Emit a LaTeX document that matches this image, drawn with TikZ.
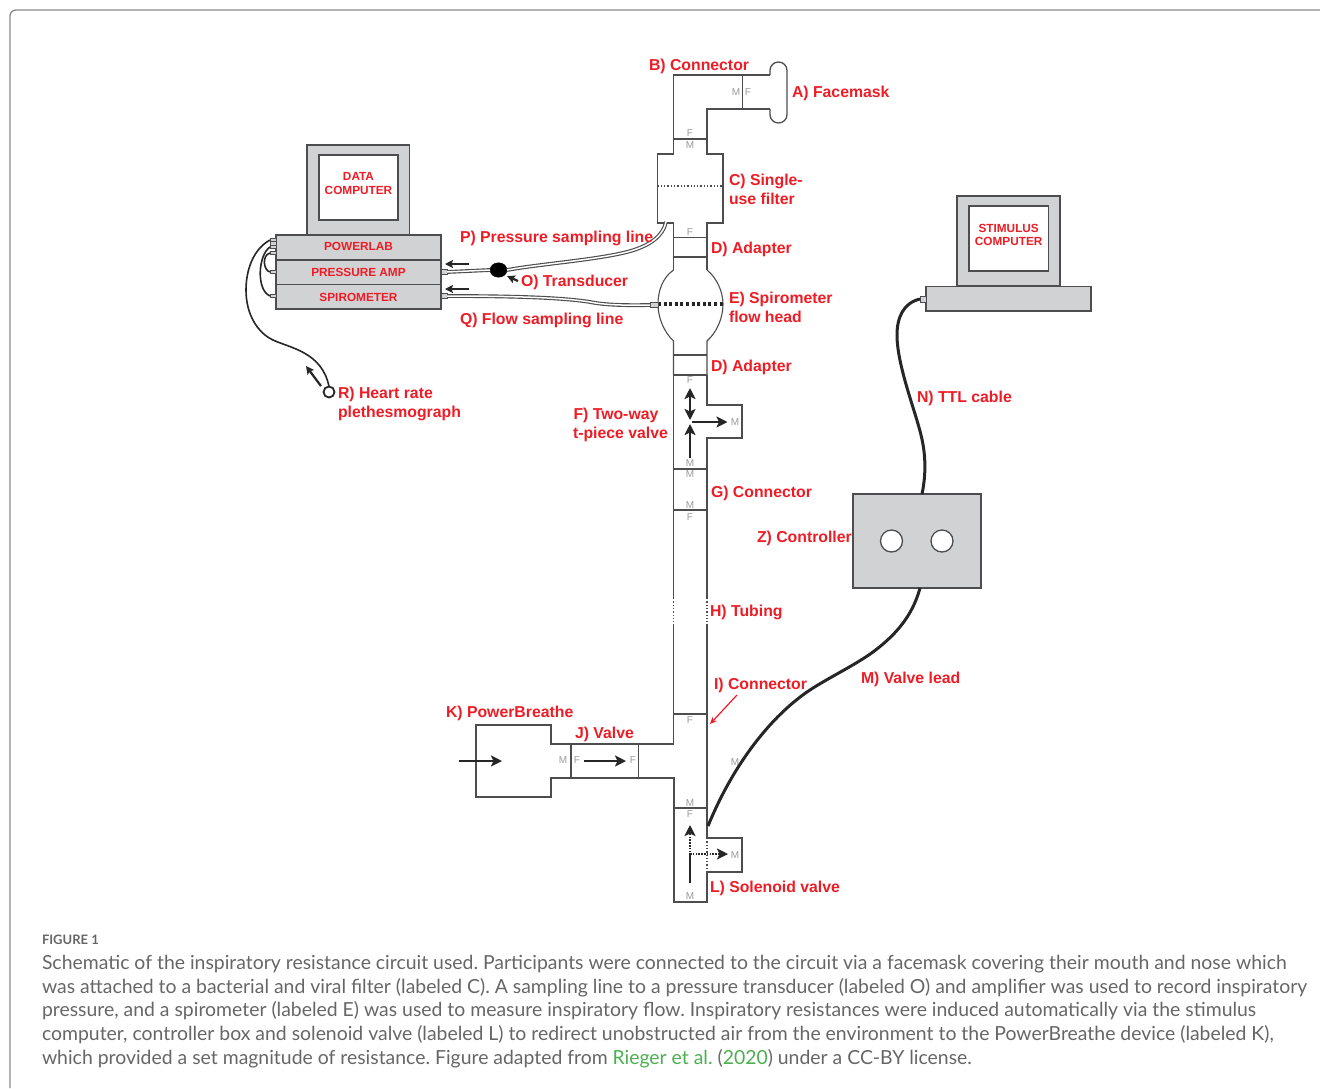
\documentclass[tikz,border=0pt]{standalone}
\usepackage{fontspec}
\setmainfont{Liberation Sans}
\newfontfamily\capfont{Lato}
\usetikzlibrary{arrows.meta,shapes.geometric}
\definecolor{lab}{HTML}{EE1C25}
\definecolor{ln}{HTML}{4D4D4F}
\definecolor{pan}{HTML}{D1D2D4}
\definecolor{gtx}{HTML}{9A9A9A}
\definecolor{capc}{HTML}{666666}
\definecolor{lnk}{HTML}{4CAF50}
\definecolor{frm}{HTML}{8A8A8A}
\tikzset{
 every node/.style={inner sep=0pt,outer sep=0pt},
 wall/.style={draw=ln,line width=1.3pt,line join=miter},
 part/.style={draw=ln,line width=1.3pt,fill=pan},
 screenbox/.style={draw=ln,line width=1.3pt,fill=white},
 lbl/.style={anchor=base west,text=lab,font=\fontsize{15.8}{16}\selectfont\bfseries,align=left},
 mlbl/.style={anchor=center,text=lab,font=\fontsize{11.8}{13.5}\selectfont\bfseries,align=center},
 mf/.style={anchor=center,text=gtx,font=\fontsize{10}{10}\selectfont},
 flow/.style={line width=2.6pt,color=black!85,-{Stealth[length=11pt,width=11pt,inset=2.5pt]}},
 flowd/.style={line width=2.6pt,color=black!85,dash pattern=on 1.6pt off 1.2pt,-{Stealth[length=11pt,width=11pt,inset=2.5pt]}},
 small/.style={line width=2.2pt,color=black!85,-{Stealth[length=8pt,width=8pt,inset=1.5pt]}},
 cable/.style={draw=black!85,line width=3pt},
 thin cable/.style={draw=black!85,line width=1.6pt},
 tube/.style={draw=ln,line width=3.8pt,postaction={draw=white,line width=1.5pt}},
 stub/.style={draw=ln,line width=.8pt,fill=pan,minimum width=6pt,minimum height=4.5pt},
 capt/.style={anchor=base west,text=capc,font=\capfont\fontsize{19.4}{20}\selectfont},
}
\begin{document}
\frenchspacing
\begin{tikzpicture}[x=1pt,y=-1pt]
\useasboundingbox (0,0) rectangle (1320,1088);
\draw[draw=frm,line width=1.3pt,rounded corners=6pt] (10,1088) -- (10,10) -- (1320,10);
% main tube
\draw[wall] (770,75) -- (673.5,75) -- (673.5,154) -- (657.5,154) -- (657.5,223) -- (673.5,223) -- (673.5,270);
\draw[wall] (770,109) -- (707,109) -- (707,154) -- (723,154) -- (723,223) -- (707,223) -- (707,270);
\draw[wall] (742.7,75) -- (742.7,109);
\draw[wall] (673.5,139) -- (707,139);
\draw[line width=1.3pt,draw=ln,dotted] (657.5,186) -- (723,186);
\draw[wall] (673.5,237.5) -- (707,237.5) (673.5,257) -- (707,257);
% mask
\draw[wall,rounded corners=8.4pt] (770,75) -- (770,62) -- (787,62) -- (787,123) -- (770,123) -- (770,109);
% flow head
\draw[wall,line width=1.1pt] (673.5,270) .. controls (662,278) and (658,292) .. (658,304) .. controls (658,318) and (664,332) .. (673.5,341) -- (673.5,375);
\draw[wall,line width=1.1pt] (707,270) .. controls (717,278) and (723,292) .. (723,304) .. controls (723,318) and (717,332) .. (707,341) -- (707,375);
\draw[line width=3.2pt,black!85,dash pattern=on 3pt off 2.6pt] (658,304) -- (723,304);
\draw[wall] (673.5,355) -- (707,355) (673.5,375) -- (707,375);
% t-piece and tube
\draw[wall] (673.5,375) -- (673.5,598) (673.5,625) -- (673.5,744) -- (638.5,744) -- (551,744) -- (551,725) -- (476,725) -- (476,797) -- (551,797) -- (551,778) -- (674,778) -- (674,902) -- (707,902) -- (707,872) -- (742,872) -- (742,838) -- (707,838) -- (707,625);
\draw[wall] (707,598) -- (707,438) -- (742,438) -- (742,405) -- (707,405) -- (707,375);
\draw[line width=1.3pt,draw=ln,dotted] (673.5,598) -- (673.5,625) (707,598) -- (707,625);
\fill[white] (705.5,838.6) rectangle (708.5,871.4);
\draw[line width=1.3pt,draw=ln,dotted] (707,838) -- (707,872);
\draw[wall] (673.5,469) -- (707,469) (673.5,510) -- (707,510) (673.5,714) -- (707,714) (673.5,808) -- (707,808);
\draw[wall] (571,744) -- (571,778) (638.5,744) -- (638.5,778);
% MF letters
\foreach \x/\y/\t in {736/92/M,748/92/F,690/133.5/F,690/145/M,690/232/F,690/380/F,735/422/M,690/463/M,690/474/M,690/505/M,690/517/F,690/720/F,563/760/M,577/760/F,633/760/F,735/762/M,690/803/M,690/814/F,735/855/M,690/896/M}
  \node[mf] at (\x,\y) {\t};
% flow arrows
\draw[line width=2.6pt,black!85,{Stealth[length=11pt,width=11pt,inset=2.5pt]}-{Stealth[length=11pt,width=11pt,inset=2.5pt]}] (690,388) -- (690,420);
\draw[flow] (692,422) -- (727.5,422);
\draw[flow] (690,458) -- (690,424);
\draw[flow] (459,761) -- (502,761);
\draw[flow] (584,761) -- (626,761);
\draw[line width=2.6pt,black!85] (690,883) -- (690,855);
\draw[flowd] (690,855) -- (690,825);
\draw[flowd] (690,854) -- (728,854);
% data computer
\node[part,minimum width=102.5pt,minimum height=90pt] (dataframe) at (358.2,190) {};
\node[screenbox,minimum width=79pt,minimum height=65pt] (datascreen) at (358.5,187.5) {};
\node[mlbl] (datatext) at (358.5,183.5) {DATA\\COMPUTER};
\node[part,minimum width=165pt,minimum height=25pt] (powerlab) at (358.5,247.5) {};
\node[part,minimum width=165pt,minimum height=24.5pt] (amp) at (358.5,272.2) {};
\node[part,minimum width=165pt,minimum height=24.5pt] (spiro) at (358.5,296.8) {};
\node[mlbl] (powerlabtext) at (358.5,246) {POWERLAB};
\node[mlbl] (amptext) at (358.5,272) {PRESSURE AMP};
\node[mlbl] (spirotext) at (358.5,297.5) {SPIROMETER};
\foreach \n/\y in {sa/240,sb/243.5,sc/247,sd/253,se/272,sf/296}
  \node[stub,minimum height=3.5pt] (\n) at (273,\y) {};
\node[stub] (oa) at (444,272) {};
\node[stub] (ob) at (444,296) {};
\node[stub,minimum width=8pt] (oc) at (654,305) {};
% left wires
\draw[thin cable] (sd.west) .. controls (262,255) and (263,270) .. (se.west);
\draw[thin cable] (sc.west) .. controls (258,255) and (256,290) .. (sf.west);
\node[draw=black!85,line width=1.8pt,circle,minimum size=11pt,fill=white] (pleth) at (329,392) {};
\draw[thin cable] (sa.west) .. controls (252,250) and (246,272) .. (246,290) .. controls (246,315) and (258,333) .. (273,340) .. controls (290,348) and (322,352) .. (pleth.north);
\draw[small] (321,386) -- (306,366);
% sampling lines
\node[draw=black,fill=black,ellipse,minimum width=17pt,minimum height=14.5pt] (trans) at (498.5,270) {};
\draw[tube] (oa.east) -- (trans.west);
\coordinate (filt) at (666,222);
\draw[tube] (trans.east) .. controls (540,264) and (595,260) .. (627,252) .. controls (650,246) and (663,236) .. (filt);
\draw[tube] (ob.east) .. controls (500,296) and (560,297) .. (590,302) .. controls (605,305) and (625,305.5) .. (oc.west);
\draw[small] (518,281) -- (507,276);
\draw[small] (469,264) -- (445,264);
\draw[small] (469,289) -- (445,289);
% stimulus computer
\node[part,minimum width=103pt,minimum height=90pt] (stimframe) at (1008.5,241) {};
\node[screenbox,minimum width=79.5pt,minimum height=65pt] (stimscreen) at (1008.7,238.5) {};
\node[mlbl] (stimtext) at (1008.7,235) {STIMULUS\\COMPUTER};
\node[part,minimum width=165pt,minimum height=24.5pt] (stimbase) at (1008.5,298.7) {};
\node[stub,minimum height=6pt] (stimport) at (923,299) {};
% controller
\node[part,minimum width=128pt,minimum height=94pt] (ctrl) at (917,541) {};
\node[screenbox,circle,minimum size=22pt] (knoba) at (891.5,541) {};
\node[screenbox,circle,minimum size=22pt] (knobb) at (942,541) {};
\coordinate (ttl) at (922,494);
\coordinate (leadtop) at (920,588);
\coordinate (leadend) at (708,826);
\draw[cable] (stimport.west) .. controls (903,303) and (897,318) .. (897,335) .. controls (897,365) and (915,410) .. (921,435) .. controls (926,455) and (926,475) .. (ttl);
\draw[cable] (leadtop) .. controls (912,618) and (893,637) .. (873,652) .. controls (855,665) and (832,676) .. (813,688) .. controls (775,712) and (735,760) .. (leadend);
\draw[line width=1.2pt,lab,-{Stealth[length=7pt,width=6pt]}] (737,695) -- (710,724);
% labels
\node[lbl] (A) at (792,97.5) {A) Facemask};
\node[lbl] (B) at (649,70.5) {B) Connector};
\node[lbl] (C) at (729,185.5) {C) Single-};
\node[lbl] (C2) at (729,204) {use filter};
\node[lbl] (D) at (711,253.5) {D) Adapter};
\node[lbl] (D2) at (711,371.5) {D) Adapter};
\node[lbl] (E) at (729,303.5) {E) Spirometer};
\node[lbl] (E2) at (729,322.5) {flow head};
\node[lbl] (F) at (573.5,419.5) {F) Two-way};
\node[lbl] (F2) at (573,438.5) {t-piece valve};
\node[lbl] (G) at (711,497.5) {G) Connector};
\node[lbl] (H) at (710,616.5) {H) Tubing};
\node[lbl] (I) at (714,689.5) {I) Connector};
\node[lbl] (J) at (575,738.5) {J) Valve};
\node[lbl] (K) at (446,717.5) {K) PowerBreathe};
\node[lbl] (L) at (710,892.5) {L) Solenoid valve};
\node[lbl] (M) at (861,683.5) {M) Valve lead};
\node[lbl] (N) at (917,402.5) {N) TTL cable};
\node[lbl] (O) at (521,286.5) {O) Transducer};
\node[lbl] (P) at (460,242.5) {P) Pressure sampling line};
\node[lbl] (Q) at (460,324.5) {Q) Flow sampling line};
\node[lbl] (R) at (338,398.5) {R) Heart rate};
\node[lbl] (R2) at (338,417.5) {plethesmograph};
\node[lbl] (Z) at (757,542.5) {Z) Controller};
% caption
\node[capt,font=\capfont\fontsize{13}{14}\selectfont\bfseries] (figlab) at (42,944) {FIGURE 1};
\node[capt] (c1) at (42,969.5) {Schematic of the inspiratory resistance circuit used. Participants were connected to the circuit via a facemask covering their mouth and nose which};
\node[capt] (c2) at (42,993.5) {was attached to a bacterial and viral filter (labeled C). A sampling line to a pressure transducer (labeled O) and amplifier was used to record inspiratory};
\node[capt] (c3) at (42,1016.5) {pressure, and a spirometer (labeled E) was used to measure inspiratory flow. Inspiratory resistances were induced automatically via the stimulus};
\node[capt] (c4) at (42,1040.5) {computer, controller box and solenoid valve (labeled L) to redirect unobstructed air from the environment to the PowerBreathe device (labeled K),};
\node[capt] (c5) at (42,1064.5) {which provided a set magnitude of resistance. Figure adapted from \textcolor{lnk}{Rieger et al.} (\textcolor{lnk}{2020}) under a CC-BY license.};
\end{tikzpicture}
\end{document}
